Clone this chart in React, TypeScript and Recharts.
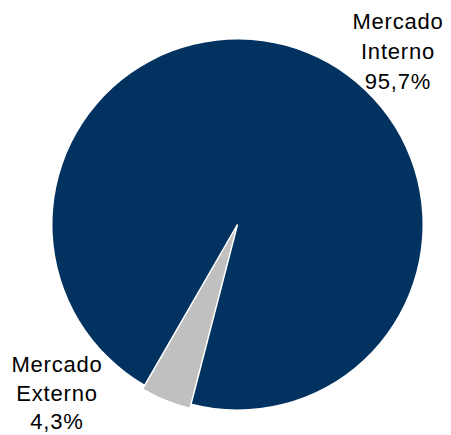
import { PieChart, Pie, Cell } from "recharts";

// ── Datos ──────────────────────────────────────────────────────────────
const NAMES = ["Mercado Interno", "Mercado Externo"];
const VALUES = [95.7, 4.3];
const PCT_LABELS = ["95,7%", "4,3%"];

const data = NAMES.map((name, i) => ({ name, value: VALUES[i], pct: PCT_LABELS[i] }));

const NAVY = "#02325F";
const GREY = "#C0C0C0";

// posición del rótulo (centro de texto, línea base de la primera línea)
const LABEL_POS = [
  { x: 398, y: 28.5, step: 30 },
  { x: 57, y: 372, step: 28.5 },
];

const TEXT_STYLE = {
  fontFamily: "'Liberation Sans', Arial, sans-serif",
  fontSize: 22,
  fill: "#000",
  letterSpacing: 0.8,
};

function renderLabel(props: any) {
  const { index, name, payload } = props;
  const pos = LABEL_POS[index];
  const words = String(name).split(" ");
  return (
    <text key={`lbl-${index}`} x={pos.x} y={pos.y} textAnchor="middle" style={TEXT_STYLE}>
      <tspan x={pos.x} dy={0}>{words[0]}</tspan>
      <tspan x={pos.x} dy={pos.step}>{words[1]}</tspan>
      <tspan x={pos.x} dy={pos.step}>{payload.pct}</tspan>
    </text>
  );
}

export default function App() {
  return (
    <div style={{ width: 451, height: 435, background: "#fff" }}>
      <style>{`body{margin:0}`}</style>
      <PieChart width={451} height={435} margin={{ top: 0, right: 0, bottom: 0, left: 0 }}>
        <Pie
          data={data}
          dataKey="value"
          nameKey="name"
          cx={237.5}
          cy={224.5}
          outerRadius={185}
          startAngle={-104.5}
          endAngle={255.5}
          stroke="none"
          label={renderLabel}
          labelLine={false}
          isAnimationActive={false}
        >
          <Cell fill={NAVY} />
          <Cell fill="transparent" />
        </Pie>
        <Pie
          data={data}
          dataKey="value"
          nameKey="name"
          cx={237.5}
          cy={224.5}
          outerRadius={190}
          startAngle={-104.5}
          endAngle={255.5}
          isAnimationActive={false}
        >
          <Cell fill="transparent" stroke="none" />
          <Cell fill={GREY} stroke="#fff" strokeWidth={1.5} />
        </Pie>
      </PieChart>
    </div>
  );
}
